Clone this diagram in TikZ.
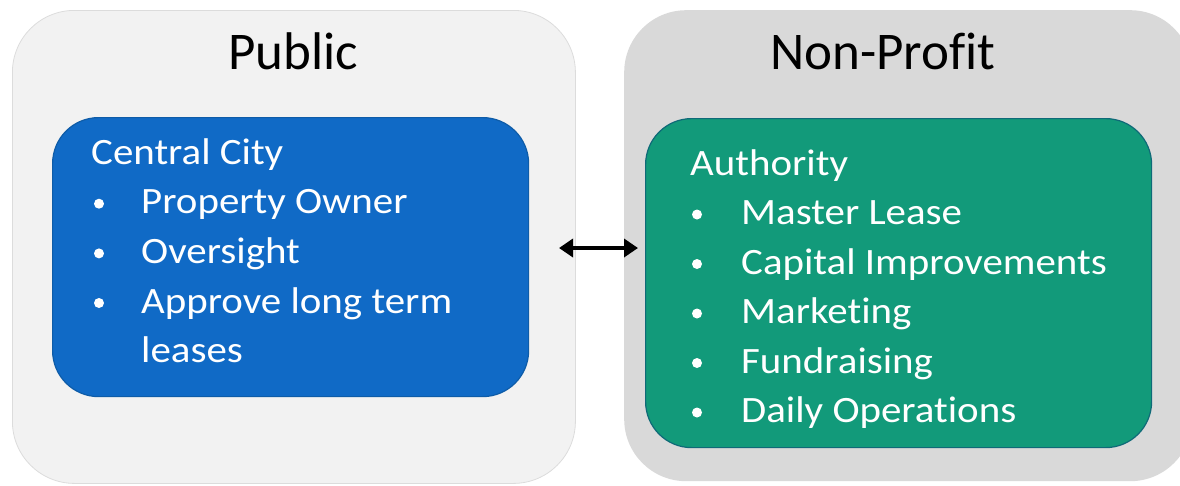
\documentclass[tikz,border=0pt]{standalone}
\usepackage{fontspec}
\setmainfont{Carlito}[Ligatures={NoCommon,NoRare}]
\newfontfamily\bodyfont{Carlito}[FakeStretch=1.1,Ligatures={NoCommon,NoRare}]
\usetikzlibrary{arrows.meta}

\definecolor{publicbg}{HTML}{F2F2F2}
\definecolor{publicedge}{HTML}{DCDCDC}
\definecolor{nonprofitbg}{HTML}{D9D9D9}
\definecolor{cityblue}{HTML}{106AC6}
\definecolor{cityedge}{HTML}{0E5CA8}
\definecolor{authgreen}{HTML}{129A7A}
\definecolor{authedge}{HTML}{0F6A78}

\tikzset{
  outerbox/.style={rectangle, rounded corners=62pt, anchor=north west, inner sep=0pt},
  innerbox/.style={rectangle, rounded corners=46pt, anchor=north west, inner sep=0pt, line width=1.2pt},
  heading/.style={anchor=base, inner sep=0pt, font=\fontsize{53}{60}\selectfont, text=black},
  bodyline/.style={anchor=base west, inner sep=0pt, font=\bodyfont\fontsize{37.2}{49.6}\selectfont, text=white},
  bulletmark/.style={circle, fill=white, inner sep=0pt, minimum size=10pt},
  link/.style={line width=3.6pt, {Triangle[length=14pt,width=18pt]}-{Triangle[length=14pt,width=18pt]}},
}

\begin{document}
\begin{tikzpicture}[x=1pt,y=-1pt]
\useasboundingbox (0,0) rectangle (1180,485);

% outer panels
\node[outerbox, fill=publicbg, draw=publicedge, line width=0.8pt,
      minimum width=563pt, minimum height=473pt] (public) at (12,10) {};
\node[outerbox, fill=nonprofitbg, minimum width=568pt, minimum height=471pt] (nonprofit) at (624,10) {};

\node[heading] (publicT) at (293,69) {Public};
\node[heading] (nonprofitT) at (883,69) {Non-Profit};

% inner boxes
\node[innerbox, fill=cityblue, draw=cityedge, minimum width=476pt, minimum height=279pt] (city) at (52,117) {};
\node[innerbox, fill=authgreen, draw=authedge, minimum width=506pt, minimum height=329pt] (auth) at (645,118) {};

% Central City list
\node[bodyline] (c0) at (91,164) {Central City};
\node[bulletmark] (cb1) at (99,203.7) {};
\node[bodyline] (c1) at (141,213.7) {Property Owner};
\node[bulletmark] (cb2) at (99,253.4) {};
\node[bodyline] (c2) at (141,263.4) {Oversight};
\node[bulletmark] (cb3) at (99,303) {};
\node[bodyline] (c3) at (141,313) {Approve long term};
\node[bodyline] (c4) at (141,362.7) {leases};

% Authority list
\node[bodyline] (a0) at (690,175) {Authority};
\foreach \t [count=\i] in {Master Lease, Capital Improvements, Marketing, Fundraising, Daily Operations}{
  \node[bulletmark] (ab\i) at (697,165+49.5*\i) {};
  \node[bodyline] (a\i) at (741,175+49.5*\i) {\t};
}

% two-way link between the panels
\coordinate (linkL) at (559,248);
\coordinate (linkR) at (638,248);
\draw[link] (linkL) -- (linkR);
\end{tikzpicture}
\end{document}
